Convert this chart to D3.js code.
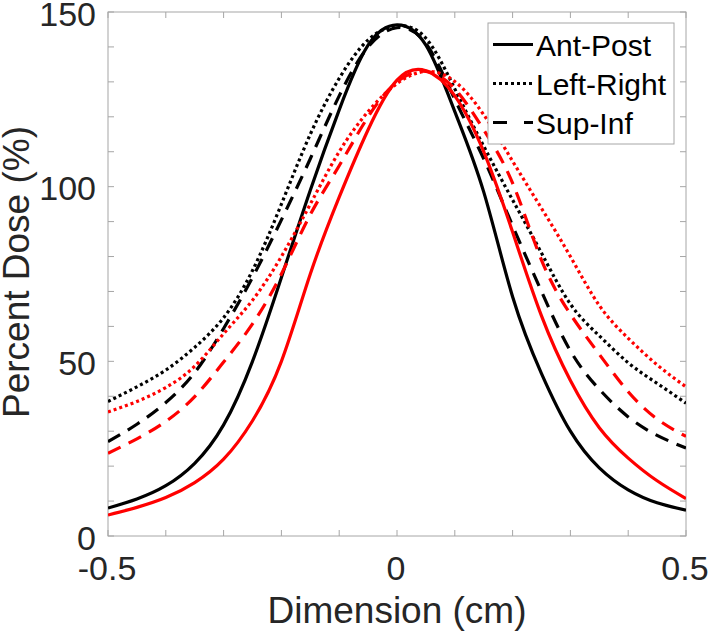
<!DOCTYPE html>
<html><head><meta charset="utf-8">
<script src="https://d3js.org/d3.v7.min.js"></script>
<style>body{margin:0;background:#fff}svg{display:block}</style>
</head><body>
<script>
// ---- data ----
const xs = [-0.5,-0.45,-0.4,-0.35,-0.3,-0.25,-0.2,-0.15,-0.1,-0.05,0,0.05,0.1,0.15,0.2,0.25,0.3,0.35,0.4,0.45,0.5];
const antPostBlack   = [8.0,10.6,14.4,20.8,31.8,50,74,99,122,140.5,146.3,140.5,121.5,98.5,68.5,46.5,30,19.5,13.2,9.5,7.4];
const leftRightBlack = [38.5,42.7,47.5,54,62.5,76,95,115,131,142,146,142.5,128,111.6,96.2,81,66.4,57.3,49.6,43.7,38];
const supInfBlack    = [27,32,38.2,46.8,59.4,74,90.5,108,126,140,145.5,141,125,108,88.8,70,53,42,34.1,28.8,25.2];
const antPostRed     = [6.0,8.2,11,15.3,22,33,50,75,97,116.3,130.5,133.2,126,110,87,63,44.5,31,22.3,15.8,10.7];
const leftRightRed   = [35.5,38.5,42.5,48.6,57.9,67.5,80,95,110,121.5,129.5,133,130.1,120.6,107.3,93.8,80,66,56.6,49,42.7];
const supInfRed      = [23.7,27.8,32.8,39.9,49.8,60.7,75,92,106,120,130,133,128,116.3,101,79,63.5,52,41.3,33.5,28.5];
const xTickLabels = ["-0.5", "0", "0.5"];
const xTickValues = [-0.5, 0, 0.5];
const yTickLabels = ["0", "50", "100", "150"];
const yTickValues = [0, 50, 100, 150];
const legendLabels = ["Ant-Post","Left-Right","Sup-Inf"];

// ---- layout ----
const W = 709, H = 632;
const L = 108, R = 686, T = 12, B = 536;
const svg = d3.select("body").append("svg").attr("width", W).attr("height", H);
const x = d3.scaleLinear().domain([-0.5, 0.5]).range([L, R]);
const y = d3.scaleLinear().domain([0, 150]).range([B, T]);
const axisColor = "#a6a6a6", textColor = "#262626", font = "'Liberation Sans', Arial, sans-serif";

// frame
svg.append("rect").attr("x", L).attr("y", T).attr("width", R - L).attr("height", B - T)
  .attr("fill", "none").attr("stroke", axisColor).attr("stroke-width", 1);

// ticks (inward, all sides)
const xt = d3.range(-0.5, 0.5001, 0.1);
const yt = d3.range(0, 150.01, 10);
const tl = 6;
const g = svg.append("g").attr("stroke", axisColor).attr("stroke-width", 1);
xt.forEach(v => {
  g.append("line").attr("x1", x(v)).attr("x2", x(v)).attr("y1", B).attr("y2", B - tl);
  g.append("line").attr("x1", x(v)).attr("x2", x(v)).attr("y1", T).attr("y2", T + tl);
});
yt.forEach(v => {
  g.append("line").attr("x1", L).attr("x2", L + tl).attr("y1", y(v)).attr("y2", y(v));
  g.append("line").attr("x1", R).attr("x2", R - tl).attr("y1", y(v)).attr("y2", y(v));
});

// tick labels
svg.selectAll(".xl").data(xTickValues).enter().append("text")
  .attr("x", d => x(d) - 1).attr("y", 580).attr("text-anchor", "middle")
  .attr("font-family", font).attr("font-size", 34).attr("fill", textColor)
  .text((d, i) => xTickLabels[i]);
svg.selectAll(".yl").data(yTickValues).enter().append("text")
  .attr("x", 96).attr("y", d => y(d) + 13.5).attr("text-anchor", "end")
  .attr("font-family", font).attr("font-size", 34).attr("fill", textColor)
  .text((d, i) => yTickLabels[i]);

// axis labels
svg.append("text").attr("x", (L + R) / 2).attr("y", 623).attr("text-anchor", "middle")
  .attr("font-family", font).attr("font-size", 37).attr("fill", textColor).text("Dimension (cm)");
svg.append("text").attr("transform", `translate(29,${(T + B) / 2 - 2}) rotate(-90)`).attr("text-anchor", "middle")
  .attr("font-family", font).attr("font-size", 37).attr("fill", textColor).text("Percent Dose (%)");

// curves
const styles = { solid: null, dotted: "3,3", dashed: "14,9" };
const series = [
  { v: antPostBlack, c: "#000", s: "solid" },
  { v: leftRightBlack, c: "#000", s: "dotted" },
  { v: supInfBlack, c: "#000", s: "dashed" },
  { v: antPostRed, c: "#ff0000", s: "solid" },
  { v: leftRightRed, c: "#ff0000", s: "dotted" },
  { v: supInfRed, c: "#ff0000", s: "dashed" }
];
const line = d3.line().x((d, i) => x(xs[i])).y(d => y(d)).curve(d3.curveNatural);
svg.append("clipPath").attr("id", "pc").append("rect")
  .attr("x", L).attr("y", T).attr("width", R - L).attr("height", B - T);
svg.append("g").attr("clip-path", "url(#pc)").selectAll("path").data(series).enter().append("path")
  .attr("d", d => line(d.v)).attr("fill", "none").attr("stroke", d => d.c).attr("stroke-width", 3.2)
  .attr("stroke-dasharray", d => styles[d.s]);

// legend
const lg = svg.append("g");
lg.append("rect").attr("x", 488).attr("y", 23).attr("width", 186).attr("height", 121)
  .attr("fill", "#fff").attr("stroke", axisColor).attr("stroke-width", 1);
const legStyles = ["solid", "dotted", "dashed"];
const legDash = { solid: null, dotted: "3,3", dashed: "14,17" };
legendLabels.forEach((t, i) => {
  const cy = 44.5 + i * 39;
  lg.append("line").attr("x1", 493).attr("x2", 533).attr("y1", cy).attr("y2", cy)
    .attr("stroke", "#000").attr("stroke-width", 3).attr("stroke-dasharray", legDash[legStyles[i]]);
  lg.append("text").attr("x", 536).attr("y", cy + 11).attr("font-family", font).attr("font-size", 30)
    .attr("fill", "#000").text(t);
});
</script>
</body></html>
